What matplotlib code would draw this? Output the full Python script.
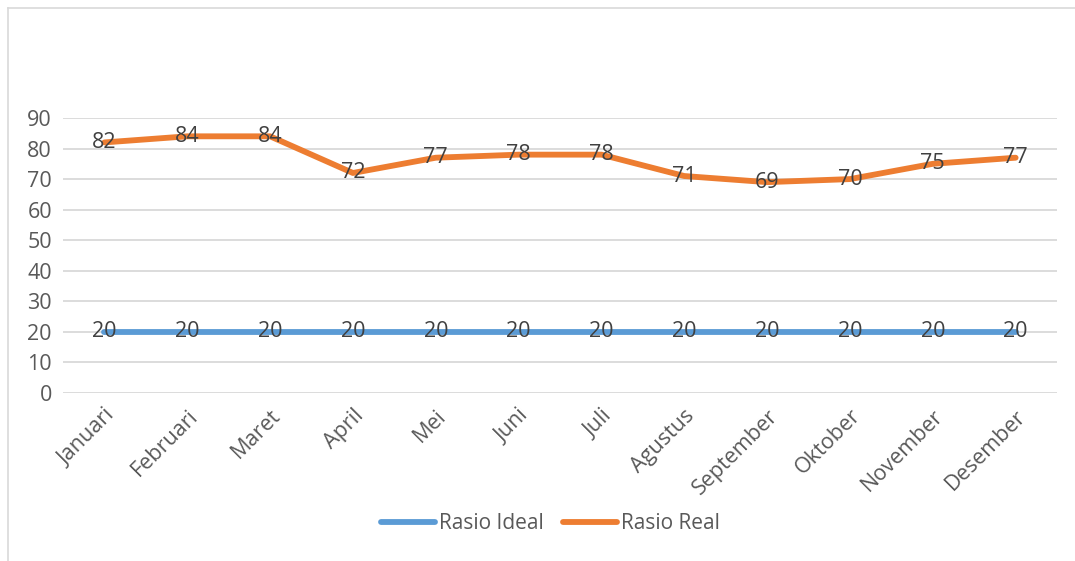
import matplotlib
matplotlib.use("Agg")
import matplotlib.pyplot as plt
from matplotlib.lines import Line2D

plt.rcParams['font.family'] = ['Open Sans', 'DejaVu Sans']

# Data
bulan = ['Januari', 'Februari', 'Maret', 'April', 'Mei', 'Juni',
         'Juli', 'Agustus', 'September', 'Oktober', 'November', 'Desember']
rasio_ideal = [20, 20, 20, 20, 20, 20, 20, 20, 20, 20, 20, 20]
rasio_real = [82, 84, 84, 72, 77, 78, 78, 71, 69, 70, 75, 77]
y_ticks = [0, 10, 20, 30, 40, 50, 60, 70, 80, 90]

blue = '#5B9BD5'
orange = '#ED7D31'
label_color = '#404040'
tick_color = '#595959'
grid_color = '#D9D9D9'
fs = 15.5

fig = plt.figure(figsize=(10.75, 5.61), dpi=100)
ax = fig.add_axes([0.0586, 0.2995, 0.9247, 0.4902])

x = list(range(len(bulan)))

# Draw lines
ax.plot(x, rasio_ideal, color=blue, linewidth=4.2, solid_capstyle='round',
        label='Rasio Ideal', zorder=3)
ax.plot(x, rasio_real, color=orange, linewidth=4.2, solid_capstyle='round',
        solid_joinstyle='round', label='Rasio Real', zorder=3)

# Data labels centred on the points
for xi, v in zip(x, rasio_ideal):
    ax.text(xi, v, str(v), ha='center', va='center', fontsize=fs,
            color=label_color, zorder=4)
for xi, v in zip(x, rasio_real):
    ax.text(xi, v, str(v), ha='center', va='center', fontsize=fs,
            color=label_color, zorder=4)

# Axes setup
ax.set_xlim(-0.5, len(bulan) - 0.5)
ax.set_ylim(0, 90)
ax.set_yticks(y_ticks)
ax.set_xticks(x)
ax.set_xticklabels(bulan, rotation=45, ha='right', rotation_mode='anchor')
ax.tick_params(axis='both', length=0, labelsize=fs, labelcolor=tick_color)
ax.tick_params(axis='y', pad=8)
ax.tick_params(axis='x', pad=9)
ax.grid(axis='y', color=grid_color, linewidth=1.3, zorder=0)
for s in ax.spines.values():
    s.set_visible(False)

# Legend below the chart
handles, labels = ax.get_legend_handles_labels()
fig.legend(handles, labels, loc='center', bbox_to_anchor=(0.512, 0.066),
           ncol=2, frameon=False, fontsize=15, labelcolor=tick_color,
           handlelength=2.6, handletextpad=0.2, columnspacing=0.9)

# Chart border (top and left edges visible)
fig.add_artist(Line2D([8 / 1075, 1.0], [1 - 8 / 561] * 2, color=grid_color,
                      linewidth=1.2, transform=fig.transFigure))
fig.add_artist(Line2D([8 / 1075] * 2, [0, 1 - 8 / 561], color=grid_color,
                      linewidth=1.2, transform=fig.transFigure))

plt.savefig('out.png', dpi=100)
